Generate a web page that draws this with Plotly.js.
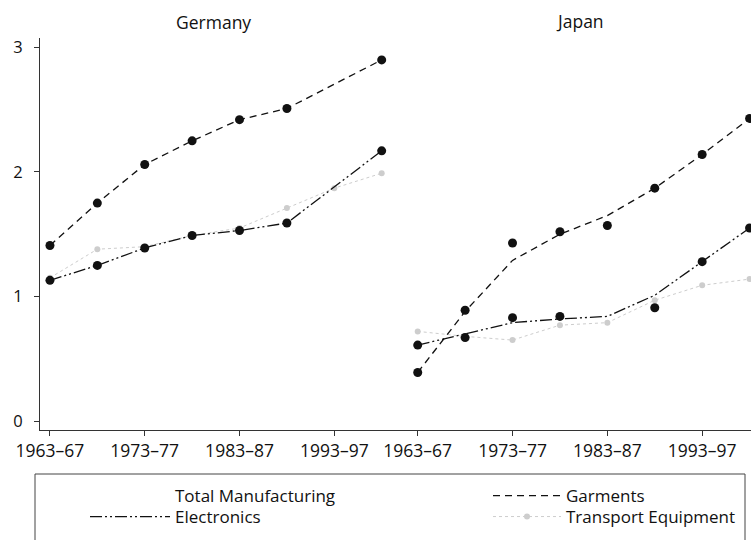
<!DOCTYPE html>
<html><head><meta charset="utf-8">
<script src="https://cdn.plot.ly/plotly-3.0.1.min.js"></script>
<style>html,body{margin:0;padding:0;background:#fff}#c{width:751px;height:540px}</style>
</head><body><div id="c"></div>
<script>
const periods = ["1963–67","1968–72","1973–77","1978–82","1983–87","1988–92","1993–97","1998–02"];
const tickPeriods = ["1963–67","1973–77","1983–87","1993–97"];
const panels = ["Germany","Japan"];
const seriesNames = ["Total Manufacturing","Garments","Electronics","Transport Equipment"];

// Germany
const deTotal = [1,1,1,1,1,1,1,1];
const deGarmentsLine = [1.41,1.75,2.06,2.25,2.42,2.51,null,2.90];
const deGarmentsDots = [1.41,1.75,2.06,2.25,2.42,2.51,null,2.90];
const deElectronicsLine = [1.13,1.25,1.39,1.49,1.53,1.59,null,2.17];
const deElectronicsDots = [1.13,1.25,1.39,1.49,1.53,1.59,null,2.17];
const deTransport = [1.15,1.38,1.40,1.49,1.55,1.71,1.87,1.99];

// Japan
const jpTotal = [1,1,1,1,1,1,1,1];
const jpGarmentsLine = [0.39,0.88,1.29,1.50,1.65,1.87,2.14,2.43];
const jpGarmentsDots = [0.39,0.89,1.43,1.52,1.57,1.87,2.14,2.43];
const jpElectronicsLine = [0.61,0.70,0.79,0.82,0.84,1.01,1.28,1.55];
const jpElectronicsDots = [0.61,0.67,0.83,0.84,null,0.91,1.28,1.55];
const jpTransport = [0.72,0.68,0.65,0.77,0.79,0.97,1.09,1.14];

const FONT = "Open Sans, Lato, sans-serif";
const ink = "#111";
const garDash = "7px,5px";
const eleDash = "12px,3px,2px,3px,2px,3px";
const tGray = "#cdcdcd";

function panelTraces(ax, total, gL, gD, eL, eD, tr, first) {
  const xa = ax === 1 ? "x" : "x2", ya = ax === 1 ? "y" : "y2";
  return [
    {x: periods, y: total, xaxis: xa, yaxis: ya, mode: "lines", name: seriesNames[0],
     line: {color: "rgba(255,255,255,0)", width: 1}, legend: "legend", legendgroup: "t", showlegend: first, hoverinfo: "skip"},
    {x: periods, y: tr, xaxis: xa, yaxis: ya, mode: "lines+markers", name: seriesNames[3],
     line: {color: tGray, width: 1, dash: "dot"}, marker: {color: tGray, size: 6, symbol: "circle"},
     legend: "legend4", legendgroup: "tr", showlegend: first, connectgaps: true},
    {x: periods, y: gL, xaxis: xa, yaxis: ya, mode: "lines", name: seriesNames[1],
     line: {color: ink, width: 1.3, dash: garDash}, legend: "legend2", legendgroup: "g", showlegend: first, connectgaps: true},
    {x: periods, y: gD, xaxis: xa, yaxis: ya, mode: "markers", name: seriesNames[1],
     marker: {color: ink, size: 9}, legendgroup: "g", showlegend: false},
    {x: periods, y: eL, xaxis: xa, yaxis: ya, mode: "lines", name: seriesNames[2],
     line: {color: ink, width: 1.3, dash: eleDash}, legend: "legend3", legendgroup: "e", showlegend: first, connectgaps: true},
    {x: periods, y: eD, xaxis: xa, yaxis: ya, mode: "markers", name: seriesNames[2],
     marker: {color: ink, size: 9}, legendgroup: "e", showlegend: false}
  ];
}

const data = [].concat(
  panelTraces(1, deTotal, deGarmentsLine, deGarmentsDots, deElectronicsLine, deElectronicsDots, deTransport, true),
  panelTraces(2, jpTotal, jpGarmentsLine, jpGarmentsDots, jpElectronicsLine, jpElectronicsDots, jpTransport, false)
);

const W = 751, T = 38, B = 110, PH = 540 - T - B;
const xCommon = {
  type: "category", categoryorder: "array", categoryarray: periods,
  tickmode: "array", tickvals: tickPeriods, ticktext: tickPeriods,
  ticks: "outside", ticklen: 5, tickcolor: "#333", showline: true, linecolor: "#333", linewidth: 1,
  showgrid: false, zeroline: false, tickfont: {family: FONT, size: 17.5, color: ink}, automargin: false
};
const legL = {orientation: "h", xanchor: "left", yanchor: "middle", itemwidth: 80,
  font: {family: FONT, size: 17, color: ink},
  bgcolor: "rgba(0,0,0,0)", borderwidth: 0, itemclick: false};
const legR = Object.assign({}, legL, {itemwidth: 68});
const row1 = -(496-430)/PH, row2 = -(517-430)/PH;

const layout = {
  width: 751, height: 540,
  margin: {l: 0, r: 0, t: T, b: B, pad: 0},
  paper_bgcolor: "#fff", plot_bgcolor: "#fff",
  showlegend: true,
  xaxis: Object.assign({}, xCommon, {domain: [40/W, 394/W], range: [-0.21, 7.26], anchor: "y"}),
  xaxis2: Object.assign({}, xCommon, {domain: [394/W, 1], range: [-0.5, 7.03], anchor: "y2"}),
  yaxis: {range: [-0.072, 3.076], tickvals: [0,1,2,3], ticks: "outside", ticklen: 5, tickcolor: "#333",
    ticklabelstandoff: 8,
    showline: true, linecolor: "#333", linewidth: 1, showgrid: false, zeroline: false,
    tickfont: {family: FONT, size: 16.5, color: ink}, automargin: false, anchor: "x"},
  yaxis2: {range: [-0.072, 3.076], matches: "y", visible: false, anchor: "x2"},
  legend: Object.assign({}, legL, {x: 85/W, y: row1}),
  legend2: Object.assign({}, legR, {x: 488/W, y: row1}),
  legend3: Object.assign({}, legL, {x: 85/W, y: row2}),
  legend4: Object.assign({}, legR, {x: 488/W, y: row2}),
  annotations: [
    {text: panels[0], xref: "paper", yref: "paper", x: 213/W, y: 1 + (T-22)/PH, xanchor: "center", yanchor: "middle",
     showarrow: false, font: {family: FONT, size: 17.5, color: ink}},
    {text: panels[1], xref: "paper", yref: "paper", x: 580/W, y: 1 + (T-21)/PH, xanchor: "center", yanchor: "middle",
     showarrow: false, font: {family: FONT, size: 17.5, color: ink}}
  ],
  shapes: [
    {type: "rect", xref: "paper", yref: "paper", x0: 35/W, x1: 745/W, y0: -(550-430)/PH, y1: -(474-430)/PH,
     line: {color: "#444", width: 1}, fillcolor: "rgba(0,0,0,0)"}
  ]
};

Plotly.newPlot("c", data, layout, {displayModeBar: false, staticPlot: true});
</script></body></html>
